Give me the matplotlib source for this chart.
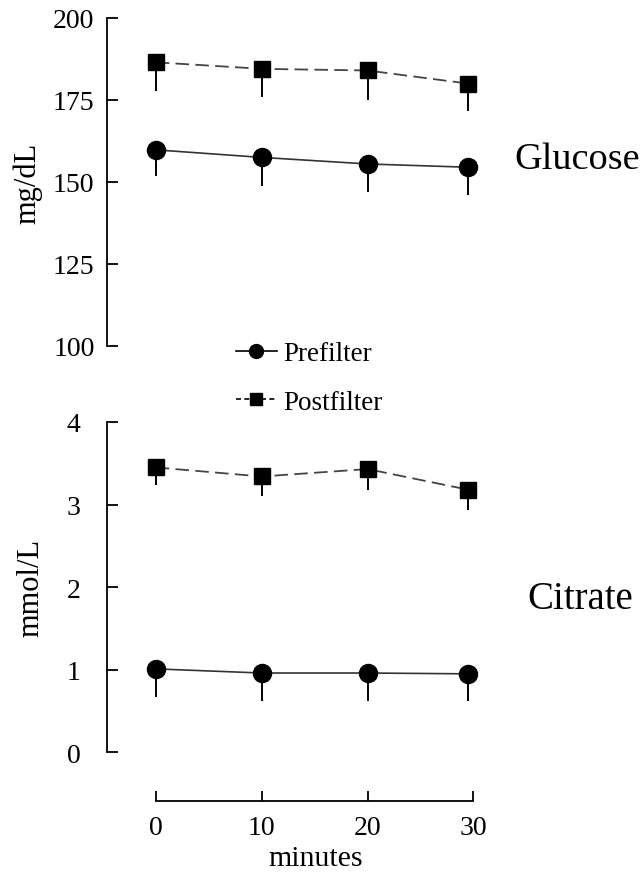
import numpy as np
import matplotlib.pyplot as plt
from matplotlib.lines import Line2D

plt.rcParams['font.family'] = ['Liberation Serif', 'DejaVu Serif']

# time points (minutes)
minutes = [0, 10, 20, 29.5]

# glucose, mg/dL (mean and lower error)
glu_pre = [159.8, 157.5, 155.5, 154.5]
glu_pre_err = [8.0, 8.6, 8.4, 8.6]
glu_post = [186.5, 184.5, 184.0, 180.0]
glu_post_err = [8.8, 8.5, 9.0, 8.4]

# citrate, mmol/L
cit_pre = [1.01, 0.96, 0.96, 0.95]
cit_pre_err = [0.34, 0.34, 0.34, 0.33]
cit_post = [3.45, 3.34, 3.43, 3.18]
cit_post_err = [0.21, 0.24, 0.25, 0.25]

fig = plt.figure(figsize=(6.44, 8.78), dpi=100)
W, H = 644, 878
ax1 = fig.add_axes([107 / W, 1 - 347 / H, 377 / W, 328 / H])
ax2 = fig.add_axes([107 / W, 1 - 802 / H, 377 / W, 379 / H])


def draw(ax, pre, pre_err, post, post_err):
    z = np.zeros(len(minutes))
    ax.errorbar(minutes, post, yerr=[post_err, z], fmt='none', ecolor='black',
                elinewidth=1.4, capsize=0, zorder=2)
    ax.errorbar(minutes, pre, yerr=[pre_err, z], fmt='none', ecolor='black',
                elinewidth=1.4, capsize=0, zorder=2)
    ax.plot(minutes, post, color='#444444', lw=1.3, ls=(0, (7.5, 3.5)), zorder=3)
    ax.plot(minutes, pre, color='#333333', lw=1.2, zorder=3)
    ax.plot(minutes, post, 's', color='black', ms=11.5, zorder=4)
    ax.plot(minutes, pre, 'o', color='black', ms=13, zorder=4)
    ax.spines['top'].set_visible(False)
    ax.spines['right'].set_visible(False)
    ax.spines['left'].set_linewidth(1.3)
    ax.spines['bottom'].set_linewidth(1.3)
    ax.set_xlim(-4.6, 31)


# top panel: glucose
draw(ax1, glu_pre, glu_pre_err, glu_post, glu_post_err)
ax1.set_ylim(100, 200)
ax1.set_yticks([100, 125, 150, 175, 200])
ax1.spines['bottom'].set_visible(False)
ax1.set_xticks([])
ax1.tick_params(axis='y', direction='in', length=8, width=1.3, pad=9, labelsize=20)
ax1.set_ylabel('mg/dL', fontsize=22)
ax1.yaxis.set_label_coords(-0.172, 0.5)

# bottom panel: citrate
draw(ax2, cit_pre, cit_pre_err, cit_post, cit_post_err)
ax2.set_ylim(-0.59, 4)
ax2.set_yticks([0, 1, 2, 3, 4])
ax2.spines['left'].set_bounds(0, 4)
ax2.spines['bottom'].set_bounds(0, 30)
ax2.set_xticks([0, 10, 20, 30])
ax2.tick_params(axis='y', direction='in', length=8, width=1.3, pad=19, labelsize=20)
ax2.tick_params(axis='x', direction='in', length=7, width=1.3, pad=10, labelsize=20)
ax2.set_ylabel('mmol/L', fontsize=22)
ax2.yaxis.set_label_coords(-0.164, 0.565)
ax2.set_xlabel('minutes', fontsize=21.5)
ax2.xaxis.set_label_coords(0.554, -0.116)

fig.text(514 / W, 1 - 160 / H, 'Glucose', fontsize=27.5, va='center', ha='left')
fig.text(527 / W, 1 - 600 / H, 'Citrate', fontsize=28, va='center', ha='left')

handles = [
    Line2D([], [], color='black', lw=1.2, marker='o', ms=10),
    Line2D([], [], color='black', lw=1.2, ls=(0, (3, 2)), marker='s', ms=9),
]
fig.legend(handles, ['Prefilter', 'Postfilter'], loc='center left',
           bbox_to_anchor=(236 / W, 1 - 379 / H), bbox_transform=fig.transFigure,
           frameon=False, fontsize=19.5, handlelength=1.5, handletextpad=0.25,
           labelspacing=0.85, borderpad=0, borderaxespad=0)

fig.savefig('out.png', dpi=100)
